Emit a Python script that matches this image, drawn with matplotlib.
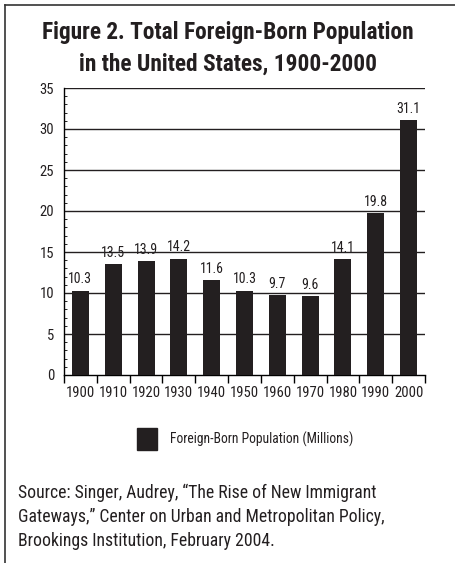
import matplotlib
matplotlib.use('Agg')
import matplotlib.pyplot as plt
from matplotlib.lines import Line2D
from matplotlib.patches import Rectangle

years = ['1900', '1910', '1920', '1930', '1940', '1950', '1960', '1970', '1980', '1990', '2000']
population = [10.3, 13.5, 13.9, 14.2, 11.6, 10.3, 9.7, 9.6, 14.1, 19.8, 31.1]
y_ticks = [0, 5, 10, 15, 20, 25, 30, 35]

BAR = '#231f20'
plt.rcParams['font.family'] = ['Roboto Condensed', 'Liberation Sans Narrow',
                               'DejaVu Sans Condensed', 'Roboto', 'DejaVu Sans']

fig = plt.figure(figsize=(4.56, 5.63), dpi=100)

# рамка: верх и левый край
fig.add_artist(Line2D([5 / 456, 1.0], [1 - 5 / 563, 1 - 5 / 563], color='#333333', lw=1.2))
fig.add_artist(Line2D([5 / 456, 5 / 456], [0, 1 - 5 / 563], color='#333333', lw=1.2))

fig.text(0.5, 1 - 33 / 563, 'Figure 2. Total Foreign-Born Population', ha='center', va='center',
         fontsize=16.8, fontweight='bold', color='#231f20')
fig.text(0.5, 1 - 64 / 563, 'in the United States, 1900-2000', ha='center', va='center',
         fontsize=16.8, fontweight='bold', color='#231f20')

ax = fig.add_axes([64 / 456, 188 / 563, 361 / 456, 287 / 563])
x = list(range(len(years)))
ax.bar(x, population, width=0.52, color=BAR, zorder=3)
for xi, v in zip(x, population):
    ax.text(xi, v + 0.5, str(v), ha='center', va='bottom', fontsize=10, color='#231f20')

ax.set_xlim(-0.5, len(years) - 0.5)
ax.set_ylim(0, 35)
ax.set_yticks(y_ticks)
ax.set_yticks(range(0, 36), minor=True)
ax.tick_params(axis='y', which='major', length=0, pad=7, labelsize=10.5, labelcolor='#231f20')
ax.tick_params(axis='y', which='minor', length=2, direction='in', width=0.6)
for t in y_ticks[1:]:
    ax.axhline(t, color='#231f20', lw=1.0, zorder=1)

ax.set_xticks([i - 0.5 for i in range(len(years) + 1)])
ax.set_xticklabels([])
ax.set_xticks(x, minor=True)
ax.set_xticklabels(years, minor=True, fontsize=10.5, color='#231f20')
ax.tick_params(axis='x', which='major', length=6, direction='out', width=1.0)
ax.tick_params(axis='x', which='minor', length=0, pad=8)

for s in ['top', 'right']:
    ax.spines[s].set_visible(False)
ax.spines['left'].set_linewidth(1.0)
ax.spines['bottom'].set_linewidth(1.0)

# легенда
fig.add_artist(Rectangle((137 / 456, 1 - 450 / 563), 20 / 456, 22 / 563, color=BAR))
fig.text(170 / 456, 1 - 439 / 563, 'Foreign-Born Population (Millions)', ha='left', va='center',
         fontsize=9.8, color='#231f20')

fig.text(18 / 456, 1 - 484 / 563, 'Source: Singer, Audrey, \u201cThe Rise of New Immigrant\n'
         'Gateways,\u201d Center on Urban and Metropolitan Policy,\n'
         'Brookings Institution, February 2004.', ha='left', va='top', fontsize=12.7,
         linespacing=1.42, color='#231f20')

fig.savefig('out.png', dpi=100)
